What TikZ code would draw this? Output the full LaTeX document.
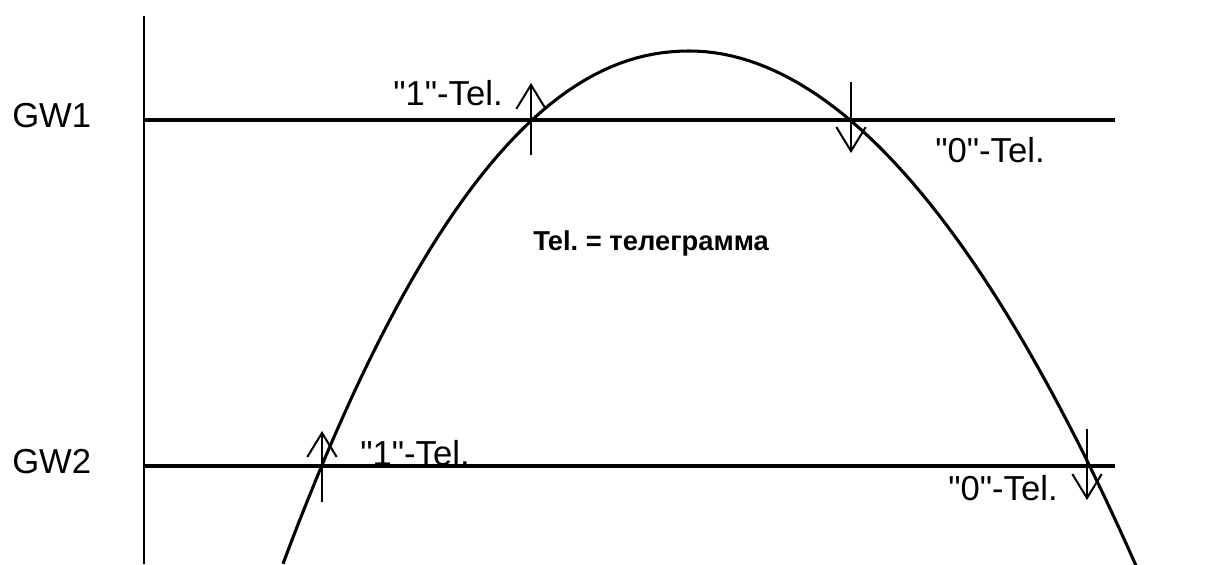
\documentclass[tikz,border=0pt]{standalone}
\usepackage{fontspec}
\setmainfont{Liberation Sans}[Ligatures=TeXOff]
\usepackage{tikz}
\usetikzlibrary{arrows.meta,positioning,calc}
\frenchspacing

\begin{document}
\begin{tikzpicture}[x=0.75pt,y=-0.75pt,font=\fontsize{26}{30}\selectfont,
  lab/.style={inner sep=0pt,anchor=base west},
  lvl/.style={line width=2.3pt},
  arr/.style={line width=1.5pt,-{Straight Barb[length=18pt,width=22pt,line width=1.5pt]}}]
\useasboundingbox (0,0) rectangle (1206,564);
% axis and levels
\draw[line width=1.5pt] (144,16) -- (144,564);
\node[lab] (gw1) at (12,127) {GW1};
\node[lab] (gw2) at (12,473) {GW2};
\coordinate (g1a) at (144,120);
\coordinate (g1b) at (1115,120);
\coordinate (g2a) at (144,466);
\coordinate (g2b) at (1115,466);
\draw[lvl] (g1a) -- (g1b);
\draw[lvl] (g2a) -- (g2b);
% curve
\draw[line width=2.3pt,line join=round] plot[domain=-4.07:4.47,samples=100]
  ({690+100*\x},{51+ifthenelse(\x<0,26.16*abs(\x)^2.12,27.47*abs(\x)^1.96)});
% switching points
\coordinate (u1s) at (531,155);
\coordinate (u1e) at (531,83);
\coordinate (d1s) at (851,82);
\coordinate (d1e) at (851,153);
\coordinate (u2s) at (322,502);
\coordinate (u2e) at (322,431);
\coordinate (d2s) at (1087,429);
\coordinate (d2e) at (1087,500);
\draw[arr] (u1s) -- (u1e);
\draw[arr] (d1s) -- (d1e);
\draw[arr] (u2s) -- (u2e);
\draw[arr] (d2s) -- (d2e);
\node[lab] (one1) at (393,105) {"1"-Tel.};
\node[lab] (zero1) at (935,162) {"0"-Tel.};
\node[lab] (one2) at (360,465) {"1"-Tel.};
\node[lab] (zero2) at (948,500) {"0"-Tel.};
\node[lab,font=\fontsize{20.5}{24}\selectfont\bfseries] (note) at (533,250) {Tel. = телеграмма};
\end{tikzpicture}
\end{document}
